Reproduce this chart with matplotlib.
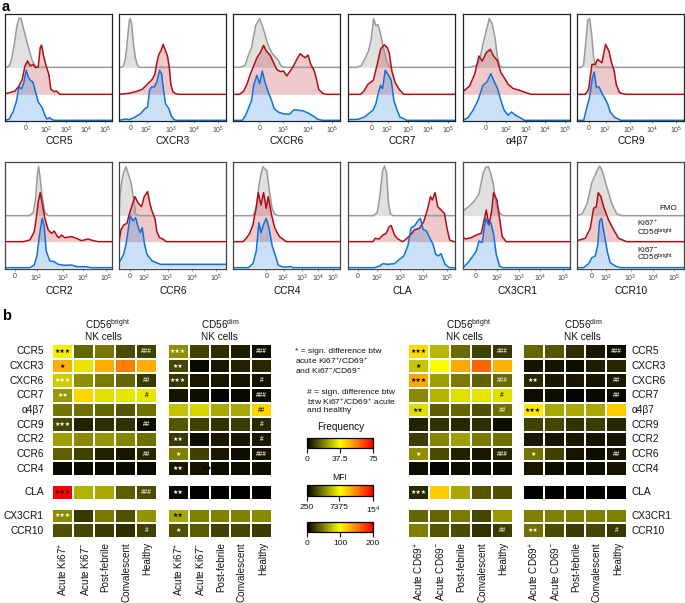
import numpy as np
import matplotlib
matplotlib.use("Agg")
import matplotlib.pyplot as plt
from matplotlib.colors import LinearSegmentedColormap, Normalize
from matplotlib.cm import ScalarMappable

W, H = 685, 603
plt.rcParams['font.family'] = ['Liberation Sans', 'DejaVu Sans']
plt.rcParams['mathtext.default'] = 'regular'

# histogram curves: (channel position, height), one gray/red/blue set per marker
ccr5_fmo = [(12,3),(20,25),(28,70),(36,125),(42,147),(48,147),(56,115),(64,85),(72,55),(82,20),(92,3),(100,0)]
ccr5_pos = [(0,2),(14,5),(30,10),(42,25),(52,45),(60,85),(68,100),(76,85),(84,90),(92,80),(100,82),(106,140),(110,148),(116,115),(124,85),(132,60),(138,15),(148,8),(155,10),(165,0)]
ccr5_neg = [(12,3),(24,25),(34,55),(42,100),(50,95),(56,110),(64,150),(70,130),(76,120),(84,115),(92,85),(100,55),(112,38),(120,15),(126,4),(134,8),(142,2),(150,0)]

cxcr3_fmo = [(8,0),(14,5),(20,30),(26,90),(31,140),(34,146),(38,130),(44,65),(50,25),(56,5),(62,0)]
cxcr3_pos = [(30,3),(50,8),(70,15),(85,30),(100,45),(108,60),(114,95),(120,120),(126,130),(133,150),(140,130),(146,115),(152,75),(156,30),(162,8),(170,2),(180,0)]
cxcr3_neg = [(20,4),(30,2),(45,8),(65,20),(78,35),(86,40),(92,90),(98,100),(106,100),(114,115),(122,150),(128,140),(134,90),(140,50),(150,35),(158,12),(166,2),(175,0)]

cxcr6_fmo = [(20,0),(36,5),(46,35),(56,60),(68,125),(80,146),(88,125),(96,100),(104,70),(116,45),(128,30),(136,22),(144,5),(152,0)]
cxcr6_pos = [(20,0),(32,10),(42,30),(52,60),(62,85),(72,110),(82,125),(92,147),(100,130),(112,117),(122,95),(132,75),(142,68),(152,70),(162,55),(172,70),(182,85),(192,105),(202,122),(210,115),(218,110),(226,118),(234,90),(244,72),(250,50),(258,15),(270,3),(280,0)]
cxcr6_neg = [(28,0),(38,15),(46,35),(56,60),(62,105),(72,135),(80,110),(88,148),(96,115),(106,85),(116,60),(124,35),(136,25),(150,20),(170,18),(184,32),(200,30),(212,28),(230,20),(246,10),(255,3),(270,0)]

ccr7_fmo = [(25,0),(40,5),(52,28),(62,50),(70,85),(77,146),(84,125),(90,128),(98,100),(106,60),(116,20),(125,0)]
ccr7_pos = [(38,0),(48,10),(60,30),(76,42),(88,90),(98,135),(109,149),(118,140),(124,125),(132,70),(142,35),(154,15),(168,0)]
ccr7_neg = [(0,2),(30,3),(50,10),(62,20),(75,30),(84,50),(92,85),(98,105),(104,95),(112,150),(122,135),(130,120),(138,60),(148,30),(156,10),(166,6),(176,0)]

a4b7_fmo = [(20,0),(40,5),(50,20),(60,70),(70,110),(79,146),(88,130),(96,90),(104,30),(110,5),(118,0)]
a4b7_pos = [(0,8),(8,15),(20,25),(35,60),(48,115),(58,100),(70,125),(82,135),(92,115),(104,100),(114,65),(124,50),(136,30),(150,18),(170,12),(190,5),(205,0)]
a4b7_neg = [(15,8),(30,30),(45,60),(60,105),(72,115),(84,140),(92,120),(104,95),(114,60),(124,30),(136,15),(146,25),(158,15),(172,8),(185,0)]

ccr9_fmo = [(14,0),(20,8),(26,70),(32,140),(38,146),(44,100),(50,30),(56,5),(62,0)]
ccr9_pos = [(25,0),(35,15),(45,90),(55,90),(62,105),(68,100),(75,95),(86,150),(96,130),(104,95),(112,70),(118,30),(128,5),(145,0)]
ccr9_neg = [(20,0),(30,40),(38,70),(46,125),(52,145),(58,100),(66,100),(76,80),(84,65),(92,50),(100,25),(112,10),(122,5),(132,0)]

ccr2_fmo = [(75,0),(85,10),(92,50),(97,120),(101,147),(105,120),(112,55),(120,10),(130,0)]
ccr2_pos = [(55,0),(75,5),(88,30),(94,70),(100,120),(106,147),(112,115),(120,70),(130,35),(140,25),(148,32),(158,15),(164,12),(170,20),(180,12),(200,15),(215,10),(230,3),(250,8),(262,4),(280,0)]
ccr2_neg = [(75,0),(88,8),(96,35),(104,100),(112,148),(118,125),(124,50),(135,20),(148,18),(160,10),(180,7),(200,8),(216,3),(240,3),(260,0)]

ccr6_fmo = [(0,0),(3,60),(8,100),(14,130),(21,147),(28,125),(36,100),(44,50),(50,5),(60,0)]
ccr6_pos = [(0,0),(6,35),(14,50),(24,55),(30,80),(38,105),(48,135),(58,115),(68,105),(76,135),(86,150),(94,110),(100,90),(108,70),(114,30),(122,12),(132,8),(142,0)]
ccr6_neg = [(0,15),(6,25),(14,40),(22,75),(34,156),(42,140),(50,150),(58,120),(64,105),(70,120),(76,75),(84,40),(92,30),(100,20),(112,15),(125,10),(322,10)]

ccr4_fmo = [(60,0),(70,20),(78,90),(84,125),(90,147),(96,140),(102,135),(110,70),(118,20),(126,5),(134,0)]
ccr4_pos = [(30,0),(40,10),(50,25),(60,50),(70,105),(76,147),(84,110),(92,147),(100,100),(106,135),(116,80),(126,40),(140,15),(150,8),(160,0)]
ccr4_neg = [(46,0),(60,12),(70,50),(78,135),(84,105),(92,130),(100,148),(108,120),(118,65),(128,35),(136,8),(150,2),(165,2),(172,4),(180,0)]

cla_fmo = [(78,0),(88,10),(96,60),(104,135),(110,149),(116,130),(122,35),(128,5),(136,0)]
cla_pos = [(75,0),(82,10),(94,8),(105,20),(115,25),(124,45),(130,48),(140,20),(150,8),(165,0),(175,8),(188,20),(200,35),(215,40),(228,60),(240,100),(248,135),(254,125),(262,147),(270,105),(280,95),(290,85),(298,40),(306,5),(318,0)]
cla_neg = [(80,0),(95,5),(105,12),(120,10),(140,12),(155,25),(168,35),(180,65),(190,120),(200,125),(210,140),(218,148),(226,115),(236,110),(248,85),(256,70),(264,40),(272,35),(280,42),(292,10),(305,0)]

cx3cr1_fmo = [(0,15),(8,20),(20,30),(35,45),(48,65),(60,125),(68,145),(76,147),(84,125),(92,90),(100,30),(110,8),(120,0)]
cx3cr1_pos = [(0,13),(8,8),(25,12),(40,20),(55,25),(70,95),(78,50),(86,90),(92,147),(102,125),(110,70),(118,15),(130,0)]
cx3cr1_neg = [(0,0),(15,15),(30,35),(40,50),(48,80),(58,75),(68,148),(76,130),(84,135),(92,100),(100,40),(110,5),(120,0)]

ccr10_fmo = [(0,0),(15,5),(30,35),(45,100),(60,135),(68,149),(76,135),(90,85),(105,35),(120,5),(135,0)]
ccr10_pos = [(0,3),(25,10),(40,40),(50,100),(58,105),(64,147),(72,135),(80,105),(95,65),(108,40),(125,10),(150,0)]
ccr10_neg = [(20,0),(35,12),(45,30),(55,35),(62,65),(68,140),(74,148),(82,100),(92,45),(100,15),(115,5),(130,0)]

# where the 0 and 10^n labels sit on each biexponential axis
ticks_ccr5 = [62, 123, 184, 243, 302]
ticks_cxcr3 = [36, 83, 156, 227, 298]
ticks_cxcr6 = [79, None, 150, 225, 297]
ticks_ccr7 = [70, 119, 180, 240, 300]
ticks_a4b7 = [68, 130, 190, 247, 307]
ticks_ccr9 = [36, 86, 158, 226, 298]
ticks_ccr2 = [29, 95, 175, 235, 303]
ticks_ccr6 = [33, 75, 146, 221, 293]
ticks_ccr4 = [100, 152, 207, 257, 302]
ticks_cla = [30, 87, 157, 227, 297]
ticks_cx3cr1 = [37, 102, 169, 232, 300]
ticks_ccr10 = [43, 88, 161, 228, 293]

# heat map values, as a 0-1 share of the colour scale
markers = ['CCR5', 'CXCR3', 'CXCR6', 'CCR7', 'α4β7', 'CCR9', 'CCR2', 'CCR6', 'CCR4', 'CLA', 'CX3CR1', 'CCR10']
groups_ki67 = ['Acute Ki67$^{+}$', 'Acute Ki67$^{-}$', 'Post-febrile', 'Convalescent', 'Healthy']
groups_cd69 = ['Acute CD69$^{+}$', 'Acute CD69$^{-}$', 'Post-febrile', 'Convalescent', 'Healthy']

bright_ki67 = [[.47,.20,.235,.15,.13],[.66,.45,.66,.75,.66],[.40,.28,.24,.20,.11],[.30,.58,.44,.45,.45],
               [.23,.22,.20,.17,.22],[.14,.07,.09,.10,.03],[.31,.27,.29,.26,.22],[.19,.13,.07,.05,.08],
               [.02,.02,.02,.02,.02],[1.0,.35,.33,.18,.15],[.27,.11,.24,.16,.29],[.16,.14,.12,.09,.13]]
dim_ki67 = [[.28,.13,.09,.06,.03],[.14,.02,.05,.07,.08],[.11,.05,.05,.04,.04],[.04,.03,.01,.02,.02],
            [.38,.42,.33,.33,.58],[.17,.13,.10,.12,.08],[.11,.03,.05,.04,.05],[.25,.13,.05,.03,.04],
            [.05,.04,.03,.03,.03],[.02,0,0,0,0],[.33,.25,.25,.25,.27],[.16,.18,.13,.14,.12]]
bright_cd69 = [[.57,.36,.21,.13,.11],[.39,.50,.67,.80,.65],[.67,.31,.24,.19,.21],[.27,.35,.44,.45,.44],
               [.44,.18,.20,.16,.22],[.07,.10,.08,.09,.03],[.12,.26,.31,.24,.22],[.28,.15,.07,.05,.08],
               [.03,.01,.03,.02,.02],[.08,.60,.33,.17,.16],[.20,.20,.24,.14,.30],[.25,.17,.15,.10,.12]]
dim_cd69 = [[.20,.17,.09,.05,.02],[.04,.04,.03,.06,.08],[.08,.05,.05,.04,.05],[.03,.03,.01,.02,.02],
            [.55,.33,.33,.33,.60],[.13,.14,.10,.12,.08],[.05,.04,.05,.04,.04],[.23,.13,.04,.03,.04],
            [.05,.03,.02,.03,.04],[0,0,0,0,0],[.25,.25,.25,.25,.25],[.22,.15,.12,.14,.11]]

# significance marks in the first column ("k" black, "w" white) and the last
stars_bright_ki67 = ['3k','1k','3w','2w','','3w','','','','3k','3w','']
hash_bright_ki67 = ['###','','##','#k','','##','','##','','###','','#']
stars_dim_ki67 = ['3w','2w','3w','','','','2w','1w','2w','2w','2k','1w']
hash_dim_ki67 = ['###','','#','###','##k','#','#','###','','','','']
stars_bright_cd69 = ['3k','1k','3k','','2k','','','1w','','3w','','']
hash_bright_cd69 = ['###','','###','#k','##','','','###','','','','##']
stars_dim_cd69 = ['','','2w','','3k','','','1w','','','','2w']
hash_dim_cd69 = ['###','','##','##','','','','##','','','','#']

GRAY = '#9a9a9a'
RED = '#b00d14'
BLUE = '#0f72dc'
heat = LinearSegmentedColormap.from_list('heat', ['#000000', '#ffff00', '#ff0000'])

fig = plt.figure(figsize=(W / 100, H / 100), dpi=100)


def px_axes(x0, y0, x1, y1):
    return fig.add_axes([x0 / W, 1 - y1 / H, (x1 - x0) / W, (y1 - y0) / H])


def px_text(x, y, s, **kw):
    kw.setdefault('ha', 'center')
    kw.setdefault('va', 'center')
    kw.setdefault('color', '#111111')
    fig.text(x / W, 1 - y / H, s, **kw)


def draw_curve(ax, pts, offset, color, fill_alpha):
    xs = [p[0] for p in pts]
    ys = [p[1] for p in pts]
    if xs[0] > 0:
        xs, ys = [0] + xs, [0] + ys
    if xs[-1] < 322:
        xs, ys = xs + [322], ys + [ys[-1]]
    xs, ys = np.array(xs), np.array(ys) + offset
    ax.fill_between(xs, offset, ys, color=color, alpha=fill_alpha, lw=0)
    ax.plot(xs, ys, color=color, lw=1.1, solid_joinstyle='round')


def histogram(x0, y0, name, fmo, pos, neg, ticks, offsets, edge, name_y):
    ax = px_axes(x0, y0, x0 + 107, y0 + 107)
    draw_curve(ax, fmo, offsets[0], GRAY, 0.3)
    draw_curve(ax, pos, offsets[1], RED, 0.22)
    draw_curve(ax, neg, offsets[2], BLUE, 0.22)
    ax.set_xlim(0, 322)
    ax.set_ylim(0, 321)
    ax.set_yticks([])
    labels = ['0', '$10^{2}$', '$10^{3}$', '$10^{4}$', '$10^{5}$']
    pairs = [(t, l) for t, l in zip(ticks, labels) if t is not None]
    ax.set_xticks([p[0] for p in pairs], [p[1] for p in pairs])
    ax.tick_params(axis='x', length=1.5, width=0.4, labelsize=5, pad=1.2, colors='#444444')
    minors = []
    for a, b in zip(ticks[1:], ticks[2:]):
        if a is not None:
            minors += [a + (b - a) * np.log10(k) for k in range(2, 10)]
    ax.set_xticks(minors, minor=True)
    ax.tick_params(axis='x', which='minor', length=1, width=0.3, colors='#666666')
    for s in ax.spines.values():
        s.set_linewidth(0.9)
        s.set_color(edge)
    px_text(x0 + 54, name_y, name, fontsize=7.3)


row1_off = (161, 80, 2)
row2_off = (160, 82, 4)
lefts = [5, 119, 233, 348, 463, 577]
histogram(lefts[0], 14, 'CCR5', ccr5_fmo, ccr5_pos, ccr5_neg, ticks_ccr5, row1_off, '#222222', 141.5)
histogram(lefts[1], 14, 'CXCR3', cxcr3_fmo, cxcr3_pos, cxcr3_neg, ticks_cxcr3, row1_off, '#222222', 141.5)
histogram(lefts[2], 14, 'CXCR6', cxcr6_fmo, cxcr6_pos, cxcr6_neg, ticks_cxcr6, row1_off, '#222222', 141.5)
histogram(lefts[3], 14, 'CCR7', ccr7_fmo, ccr7_pos, ccr7_neg, ticks_ccr7, row1_off, '#222222', 141.5)
histogram(lefts[4], 14, 'α4β7', a4b7_fmo, a4b7_pos, a4b7_neg, ticks_a4b7, row1_off, '#222222', 141.5)
histogram(lefts[5], 14, 'CCR9', ccr9_fmo, ccr9_pos, ccr9_neg, ticks_ccr9, row1_off, '#222222', 141.5)
histogram(lefts[0], 162, 'CCR2', ccr2_fmo, ccr2_pos, ccr2_neg, ticks_ccr2, row2_off, '#444444', 291)
histogram(lefts[1], 162, 'CCR6', ccr6_fmo, ccr6_pos, ccr6_neg, ticks_ccr6, row2_off, '#444444', 291)
histogram(lefts[2], 162, 'CCR4', ccr4_fmo, ccr4_pos, ccr4_neg, ticks_ccr4, row2_off, '#444444', 291)
histogram(lefts[3], 162, 'CLA', cla_fmo, cla_pos, cla_neg, ticks_cla, row2_off, '#444444', 291)
histogram(lefts[4], 162, 'CX3CR1', cx3cr1_fmo, cx3cr1_pos, cx3cr1_neg, ticks_cx3cr1, row2_off, '#444444', 291)
histogram(lefts[5], 162, 'CCR10', ccr10_fmo, ccr10_pos, ccr10_neg, ticks_ccr10, row2_off, '#444444', 291)

px_text(668, 209, 'FMO', fontsize=5.8)
px_text(637, 228, 'Ki67$^{+}$\nCD56$^{bright}$', fontsize=5.8, ha='left', linespacing=0.85)
px_text(637, 254, 'Ki67$^{-}$\nCD56$^{bright}$', fontsize=5.8, ha='left', linespacing=0.85)

px_text(2, 7, 'a', fontsize=10.5, fontweight='bold', ha='left', color='black')
px_text(2, 316, 'b', fontsize=10.5, fontweight='bold', ha='left', color='black')

PITCH = 20.9
ROW = 14.67
TOP = 344


def heatmap(x0, values, stars, hashes, groups, title_x, kind):
    # blank rows keep the CLA and CX3CR1/CCR10 blocks apart
    rows = list(values[:9]) + [[np.nan] * 5] + [values[9]] + [[np.nan] * 5] + list(values[10:])
    data = np.ma.masked_invalid(np.array(rows, dtype=float))
    yedges = np.array([0, 1, 2, 3, 4, 5, 6, 7, 8, 9, 9.62, 10.62, 11.22, 12.22, 13.22])
    xedges = np.arange(6)
    ycent = [i + .5 for i in range(9)] + [10.12, 11.72, 12.72]
    ax = px_axes(x0 - 1, TOP, x0 - 1 + 5 * PITCH, TOP + 13.22 * ROW)
    ax.pcolormesh(xedges, yedges, data, cmap=heat, vmin=0, vmax=1, edgecolors='white', linewidth=1.3)
    ax.set_xlim(0, 5)
    ax.set_ylim(13.22, 0)
    ax.axis('off')
    for y, st, ha in zip(ycent, stars, hashes):
        if st:
            ax.text(.5, y, '★' * int(st[0]), ha='center', va='center', fontsize=4.3,
                    family='DejaVu Sans', color='black' if st[1] == 'k' else 'white')
        if ha:
            black = ha.endswith('k')
            ax.text(4.5, y, ha.rstrip('k'), ha='center', va='center', fontsize=4.7,
                    fontweight='bold', color='#333300' if black else '#d5d5c5')
    for i, g in enumerate(groups):
        px_text(x0 + 10.5 + i * PITCH, 542, g, rotation=90, va='top', fontsize=7.1)
    px_text(title_x, 324, 'CD56$^{%s}$' % kind, fontsize=7.2, ha='left')
    px_text(title_x, 337, 'NK cells', fontsize=7.2, ha='left')
    return ax, ycent


ax, ycent = heatmap(53.3, bright_ki67, stars_bright_ki67, hash_bright_ki67, groups_ki67, 85, 'bright')
for i, name in enumerate(markers):
    px_text(44, TOP + ycent[i] * ROW, name, fontsize=7.3, ha='right')
ax, ycent = heatmap(168.7, dim_ki67, stars_dim_ki67, hash_dim_ki67, groups_ki67, 200.7, 'dim')
ax.text(2, ycent[8], '★★★', ha='center', va='center', fontsize=4.3, family='DejaVu Sans', color='black')
heatmap(409, bright_cd69, stars_bright_cd69, hash_bright_cd69, groups_cd69, 446, 'bright')
ax, ycent = heatmap(523.7, dim_cd69, stars_dim_cd69, hash_dim_cd69, groups_cd69, 563.7, 'dim')
for i, name in enumerate(markers):
    px_text(632, TOP + ycent[i] * ROW, name, fontsize=7.3, ha='left')

# notes between the heat maps
px_text(295, 361.5, '* = sign. difference btw\nacute Ki67$^{+}$/CD69$^{+}$\nand Ki67$^{-}$/CD69$^{-}$',
        fontsize=6.1, ha='left', linespacing=1.05)
px_text(307, 401.5, '# = sign. difference btw\nbtw Ki67$^{+}$/CD69$^{+}$ acute\nand healthy',
        fontsize=6.1, ha='left', linespacing=1.05)
px_text(341, 427, 'Frequency', fontsize=7.2)
px_text(340, 478, 'MFI', fontsize=6.2)


def colorbar(y0, y1, vmin, vmax, ticks, labels):
    cax = px_axes(307, y0, 373, y1)
    cb = fig.colorbar(ScalarMappable(Normalize(vmin, vmax), heat), cax=cax, orientation='horizontal')
    cb.set_ticks(ticks, labels=labels)
    cax.tick_params(length=3.5, width=0.8, labelsize=6.1, pad=2.5, colors='#111111')
    cb.outline.set_linewidth(0.9)


colorbar(438, 448, 0, 75, [0, 37.5, 75], ['0', '37.5', '75'])
colorbar(485, 496, 250, 15000, [250, 7375, 15000], ['250', '7375', '$15^{4}$'])
colorbar(522, 532, 0, 200, [0, 100, 200], ['0', '100', '200'])

fig.savefig('out.png', dpi=100)
